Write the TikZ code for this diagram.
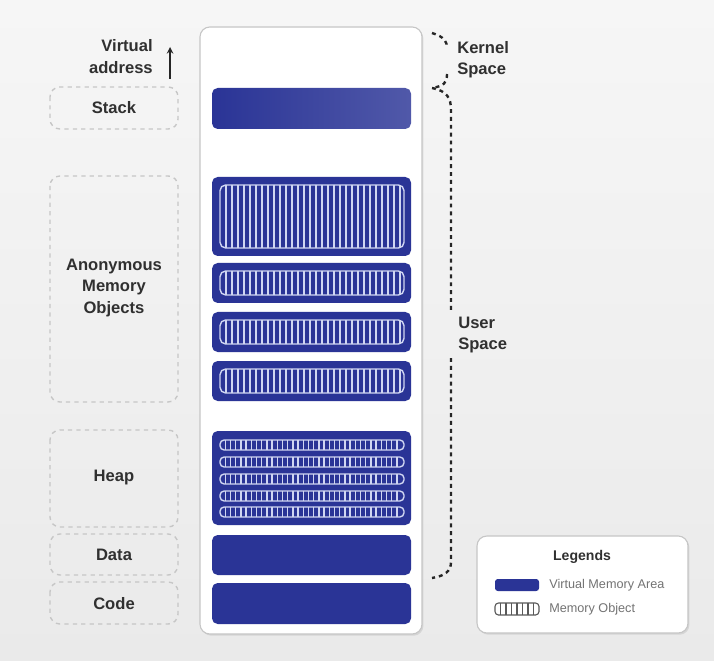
\documentclass[tikz,border=0pt]{standalone}
\usepackage{fontspec}
\setmainfont{Liberation Sans}
\usetikzlibrary{shadows}
\definecolor{vmablue}{RGB}{42,52,150}
\definecolor{stripe}{RGB}{208,214,242}
\definecolor{labelgray}{RGB}{48,48,48}
\definecolor{bgtop}{RGB}{246,246,246}
\definecolor{bgbot}{RGB}{234,234,234}
\begin{document}
\begin{tikzpicture}[x=0.025cm, y=-0.025cm, >=stealth,
    every node/.style={font=\bfseries\fontsize{11.8}{15}\selectfont, text=labelgray, inner sep=0pt},
    vma/.style={fill=vmablue, rounded corners=4pt},
    region/.style={draw=gray!45, dashed, line width=1pt, rounded corners=7pt},
    brace/.style={draw=black!85, line width=1.7pt, dash pattern=on 2.8pt off 2.8pt},
    panel/.style={draw=gray!45, fill=white, line width=0.8pt, rounded corners=7pt,
        drop shadow={opacity=0.2, shadow xshift=1pt, shadow yshift=-1.2pt}},
    legtext/.style={font=\fontsize{9}{11}\selectfont, text=black!55, anchor=west}]
    \shade[top color=bgtop, bottom color=bgbot] (0,0) rectangle (714,661);
    \useasboundingbox (0,0) rectangle (714,661);
    \path[panel] (200,27) rectangle (422,634);
    \shade[rounded corners=4pt, left color=vmablue, right color=vmablue!82!white] (212,88) rectangle (411,129);
    \foreach \top/\bot in {177/256, 263/303, 312/352, 361/401, 431/525, 535/575, 583/624} {
        \fill[vma] (212,\top) rectangle (411,\bot);
    }
    \foreach \top/\bot in {177/256, 263/303, 312/352, 361/401} {
        \draw[stripe, line width=1pt, rounded corners=4pt] (220,\top+8) rectangle (404,\bot-8);
        \foreach \x in {226,232,...,400} {
            \draw[stripe, line width=1pt] (\x,\top+8) -- (\x,\bot-8);
        }
    }
    \foreach \y in {445,462,479,496,512} {
        \draw[stripe, line width=1pt, rounded corners=3pt] (220,\y-5) rectangle (404,\y+5);
        \foreach \x in {225.2,230.4,...,400} {
            \draw[stripe, line width=1pt] (\x,\y-5) -- (\x,\y+5);
        }
    }
    \draw[region] (50,87) rectangle (178,129);
    \draw[region] (50,176) rectangle (178,402);
    \draw[region] (50,430) rectangle (178,527);
    \draw[region] (50,534) rectangle (178,575);
    \draw[region] (50,582) rectangle (178,624);
    \node (stack) at (114,108) {Stack};
    \node[align=center, font=\bfseries\fontsize{11.8}{15}\selectfont] (anon) at (114,288) {Anonymous\\Memory\\Objects};
    \node (heap) at (114,478) {Heap};
    \node (data) at (114,555) {Data};
    \node (code) at (114,604) {Code};
    \node[align=right, anchor=east, font=\bfseries\fontsize{11.8}{15.6}\selectfont] (vaddr) at (153,57) {Virtual\\address};
    \coordinate (arrowlow) at (170,79);
    \coordinate (arrowtop) at (170,47);
    \draw[->, black!85, line width=1.1pt] (arrowlow) -- (arrowtop);
    \draw[brace] (432,33) .. controls (445,37) and (447,42) .. (447,48);
    \draw[brace] (447,74) .. controls (447,83) and (444,86) .. (432,88);
    \draw[brace] (432,88) .. controls (447,91) and (451,98) .. (451,110) -- (451,313);
    \draw[brace] (451,358) -- (451,562) .. controls (451,571) and (445,576) .. (432,578);
    \node[align=left, anchor=west] (kernel) at (457,60) {Kernel\\Space};
    \node[align=left, anchor=west] (user) at (458,335) {User\\Space};
    \path[panel] (477,536) rectangle (688,633);
    \node[font=\bfseries\fontsize{10}{12}\selectfont] (legends) at (582,557) {Legends};
    \fill[vmablue, rounded corners=2pt] (495,579) rectangle (539,591);
    \draw[black!65, line width=0.8pt, rounded corners=2.5pt] (495,603) rectangle (539,615);
    \foreach \x in {500.5,506,...,535} {
        \draw[black!65, line width=0.8pt] (\x,603) -- (\x,615);
    }
    \node[legtext] (vmalabel) at (549,585) {Virtual Memory Area};
    \node[legtext] (molabel) at (549,609) {Memory Object};
\end{tikzpicture}
\end{document}
